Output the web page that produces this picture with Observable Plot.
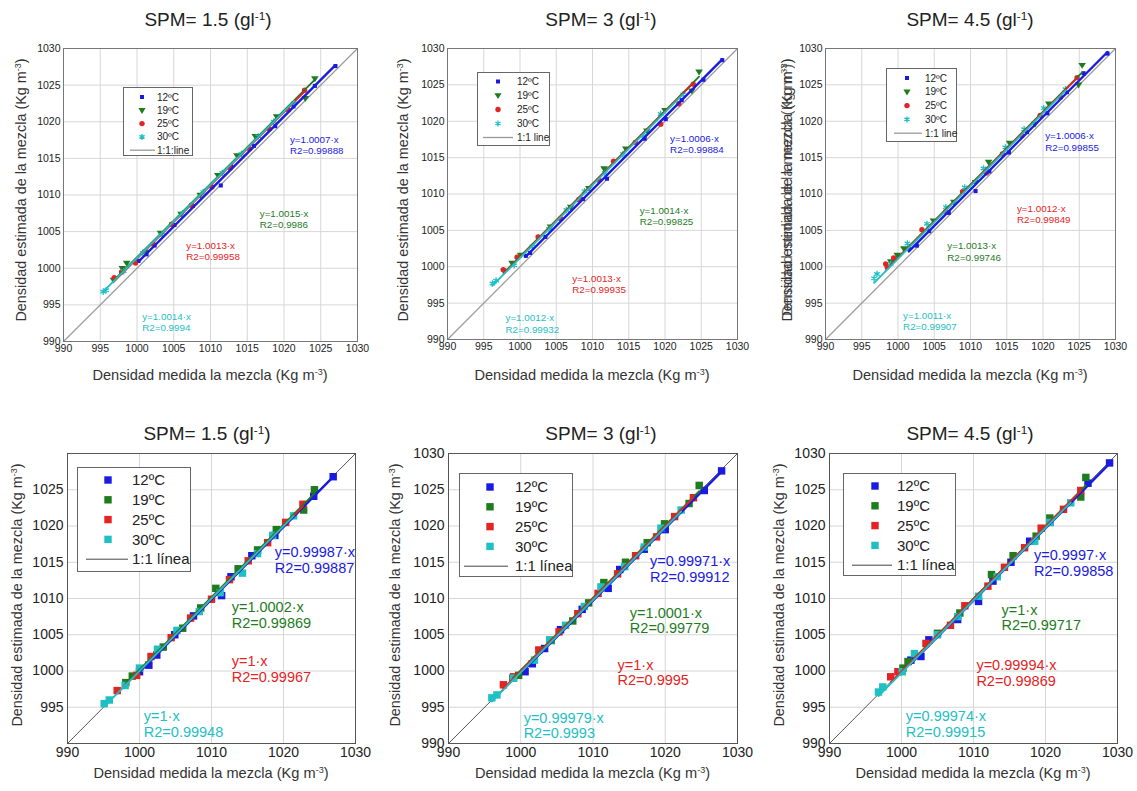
<!DOCTYPE html>
<html><head><meta charset="utf-8">
<script src="https://cdn.jsdelivr.net/npm/d3@7"></script>
<script src="https://cdn.jsdelivr.net/npm/@observablehq/plot@0.6"></script>
<style>
body{margin:0;background:#fff;font-family:"Liberation Sans",Arial,sans-serif;}
#root{position:relative;width:1137px;height:791px;overflow:hidden;background:#fff;}
.t{position:absolute;white-space:nowrap;color:#222;}
.title{font-size:19px;transform:translate(-50%,-50%);}
.xl{font-size:14.6px;transform:translate(-50%,-50%);color:#333;}
.yl{font-size:14.4px;transform:translate(-50%,-50%) rotate(-90deg);color:#333;}
sup{font-size:0.62em;vertical-align:0.55em;line-height:0;}
svg.p{position:absolute;overflow:visible;}
</style></head>
<body><div id="root"></div>
<script>
// ---------- data ----------
const temps = ["12ºC", "19ºC", "25ºC", "30ºC"];
const spm = ["1.5", "3", "4.5", "1.5", "3", "4.5"];
const oneToOneLabel = ["1:1:line", "1:1 line", "1:1 line", "1:1 línea", "1:1 línea", "1:1 línea"];
const xTitle = "Densidad medida la mezcla";
const yTitle = "Densidad estimada de la mezcla";
const yTitleAlt = "Densidad medida de la mezcla";

// slopes and R2 per panel, order: 12ºC, 19ºC, 25ºC, 30ºC
const slopes = [
  [1.0007, 1.0015, 1.0013, 1.0014],
  [1.0006, 1.0014, 1.0013, 1.0012],
  [1.0006, 1.0013, 1.0012, 1.0011],
  [0.99987, 1.0002, 1, 1],
  [0.99971, 1.0001, 1, 0.99979],
  [0.9997, 1, 0.99994, 0.99974]
];
const r2 = [
  [0.99888, 0.9986, 0.99958, 0.9994],
  [0.99884, 0.99825, 0.99935, 0.99932],
  [0.99855, 0.99746, 0.99849, 0.99907],
  [0.99887, 0.99869, 0.99967, 0.99948],
  [0.99912, 0.99779, 0.9995, 0.9993],
  [0.99858, 0.99717, 0.99869, 0.99915]
];

// measured vs estimated density [x, y]
const t1_12 = [[1000.2,1001.0],[1001.3,1001.9],[1002.4,1003.1],[1005.1,1005.9],[1007.6,1008.5],[1011.4,1011.3],[1012.8,1013.9],[1015.9,1016.7],[1018.8,1019.4],[1021.3,1022.1],[1024.2,1024.9],[1027.0,1027.6]];
const t1_19 = [[996.8,998.4],[998.0,1000.0],[998.6,1000.7],[1001.2,1002.2],[1003.2,1004.8],[1006.0,1007.4],[1008.6,1010.0],[1011.0,1012.7],[1013.6,1015.4],[1016.1,1018.0],[1019.0,1020.7],[1022.9,1023.2],[1024.2,1025.9]];
const t1_25 = [[996.9,998.7],[997.9,999.5],[999.8,1000.7],[1002.2,1003.3],[1004.7,1006.0],[1007.4,1008.6],[1010.2,1011.1],[1012.7,1013.7],[1015.3,1016.3],[1018.0,1019.0],[1020.6,1021.6],[1022.8,1024.3]];
const t1_30 = [[995.4,996.8],[995.8,997.0],[998.2,999.6],[1000.8,1002.1],[1003.4,1004.6],[1006.2,1007.5],[1009.0,1010.4],[1011.6,1013.0],[1014.2,1015.6],[1016.5,1018.0],[1018.6,1020.0],[1021.4,1022.5]];

const t2_12 = [[1000.8,1001.5],[1001.4,1001.9],[1003.5,1004.1],[1008.7,1009.3],[1012.0,1012.1],[1017.2,1017.6],[1020.1,1020.3],[1022.3,1022.9],[1025.3,1025.7],[1027.9,1028.4]];
const t2_19 = [[997.8,999.4],[998.9,1000.5],[1000.1,1001.6],[1004.2,1005.5],[1007.0,1008.2],[1009.5,1010.8],[1011.6,1013.5],[1014.6,1016.2],[1017.5,1018.7],[1020.0,1021.5],[1023.7,1024.2],[1024.7,1026.8]];
const t2_25 = [[997.7,999.6],[999.6,1001.3],[1002.5,1004.1],[1005.6,1006.6],[1008.1,1009.2],[1010.9,1011.9],[1012.9,1014.5],[1015.9,1017.1],[1019.4,1019.6],[1021.9,1022.4],[1023.9,1025.1]];
const t2_30 = [[996.2,997.7],[996.7,998.1],[999.2,1000.2],[1001.7,1002.8],[1004.0,1005.2],[1006.4,1007.8],[1008.9,1010.4],[1011.7,1012.9],[1014.2,1015.5],[1017.0,1018.0],[1019.4,1021.0],[1022.5,1023.7]];

const t3_12 = [[1001.5,1002.5],[1002.6,1002.9],[1004.3,1004.9],[1007.0,1007.4],[1010.7,1010.4],[1012.6,1013.1],[1015.3,1015.7],[1017.8,1018.5],[1020.6,1021.1],[1023.3,1024.0],[1025.6,1026.6],[1028.9,1029.3]];
const t3_19 = [[999.0,1000.7],[999.9,1001.6],[1000.8,1002.5],[1004.9,1006.3],[1007.7,1008.9],[1010.7,1011.6],[1012.5,1014.4],[1015.4,1017.0],[1018.9,1019.6],[1020.8,1022.4],[1024.9,1025.0],[1025.4,1027.7]];
const t3_25 = [[998.3,1000.4],[998.5,1000.0],[999.4,1001.2],[1003.3,1005.1],[1006.6,1007.6],[1008.9,1010.3],[1012.2,1012.9],[1014.4,1015.5],[1017.1,1018.0],[1019.6,1020.8],[1022.4,1023.3],[1024.7,1026.0]];
const t3_30 = [[996.7,998.4],[997.1,999.0],[999.0,1000.4],[1001.3,1003.2],[1004.0,1005.9],[1006.6,1008.2],[1009.2,1010.9],[1011.8,1013.5],[1014.8,1016.4],[1017.4,1018.9],[1020.1,1021.8],[1023.1,1024.4]];

const b1_12 = [[1000.0,999.9],[1001.3,1000.8],[1002.4,1002.2],[1004.9,1005.0],[1007.5,1007.6],[1011.4,1010.4],[1012.7,1013.0],[1015.6,1015.9],[1018.8,1018.7],[1024.2,1024.1],[1026.9,1026.8]];
const b1_19 = [[998.1,998.4],[999.0,999.3],[1003.3,1003.3],[1006.0,1005.9],[1008.5,1008.7],[1010.6,1011.4],[1013.7,1014.1],[1016.4,1016.7],[1019.0,1019.5],[1022.8,1022.2],[1024.3,1025.0]];
const b1_25 = [[996.9,997.3],[999.6,999.4],[1001.6,1002.0],[1004.4,1004.6],[1007.1,1007.3],[1010.0,1009.9],[1012.5,1012.6],[1015.1,1015.2],[1017.8,1017.7],[1020.3,1020.5],[1022.7,1023.0]];
const b1_30 = [[995.1,995.5],[995.8,996.0],[998.0,998.0],[1000.0,1000.4],[1002.5,1003.0],[1005.2,1005.6],[1008.3,1008.2],[1011.2,1010.8],[1014.3,1013.5],[1016.4,1016.2],[1018.5,1018.7],[1021.4,1021.4]];

const b2_12 = [[1000.6,999.9],[1001.6,1001.0],[1003.3,1003.1],[1005.5,1005.7],[1008.5,1008.5],[1012.1,1011.4],[1013.7,1014.0],[1017.1,1016.8],[1020.0,1019.5],[1025.4,1024.9],[1027.8,1027.6]];
const b2_19 = [[998.9,999.0],[999.7,999.4],[1004.2,1004.2],[1007.2,1006.9],[1009.4,1009.4],[1011.5,1012.2],[1014.5,1015.0],[1017.5,1017.7],[1019.9,1020.3],[1023.3,1023.1],[1024.7,1025.6]];
const b2_25 = [[997.6,998.1],[999.0,999.2],[1002.5,1002.9],[1005.3,1005.4],[1007.9,1007.9],[1010.7,1010.7],[1013.4,1013.4],[1015.9,1015.9],[1018.8,1018.5],[1021.3,1021.3],[1023.9,1023.9]];
const b2_30 = [[996.0,996.3],[996.7,996.7],[999.0,999.0],[1001.9,1001.5],[1004.0,1004.3],[1006.2,1006.3],[1008.8,1008.9],[1011.1,1011.6],[1014.4,1014.4],[1017.1,1017.1],[1019.4,1019.7],[1022.2,1022.2]];

const b3_12 = [[1001.3,1001.5],[1002.7,1002.0],[1003.8,1004.3],[1007.8,1007.1],[1010.7,1009.6],[1012.7,1012.4],[1015.2,1015.0],[1017.8,1017.9],[1020.6,1020.5],[1025.9,1025.9],[1028.9,1028.7]];
const b3_19 = [[1000.2,1000.4],[1000.9,1001.3],[1005.0,1005.2],[1008.1,1008.0],[1012.5,1013.3],[1015.5,1015.9],[1018.7,1018.6],[1020.6,1021.1],[1024.9,1024.0],[1025.6,1026.7]];
const b3_25 = [[998.5,999.2],[999.5,999.9],[1003.4,1003.8],[1006.8,1006.3],[1008.8,1009.0],[1012.0,1011.7],[1014.3,1014.3],[1017.1,1017.0],[1019.4,1019.7],[1022.5,1022.3],[1024.9,1024.9]];
const b3_30 = [[996.8,997.1],[997.4,997.8],[1000.1,999.9],[1001.8,1002.4],[1005.0,1005.0],[1007.8,1007.5],[1010.7,1010.3],[1013.3,1013.0],[1018.5,1017.9],[1020.6,1020.5],[1023.5,1023.2]];

const panelData = [
  [t1_12, t1_19, t1_25, t1_30],
  [t2_12, t2_19, t2_25, t2_30],
  [t3_12, t3_19, t3_25, t3_30],
  [b1_12, b1_19, b1_25, b1_30],
  [b2_12, b2_19, b2_25, b2_30],
  [b3_12, b3_19, b3_25, b3_30]
];
const domain = [990, 1030];

// ---------- styling / layout ----------
const colors = ["#1a1ae0", "#1e7c1e", "#e42424", "#1ec0c4"];
const frames = [
  {L:63, T:48, W:294, H:293}, {L:447, T:48, W:290, H:291}, {L:825, T:48, W:290, H:291},
  {L:67, T:453, W:288, H:290}, {L:448, T:453, W:289, H:290}, {L:829, T:453, W:288, H:290}
];
// annotation top-left anchors in data units (12, 19, 25, 30)
const annPos = [
  [[1020.8,1018.2],[1016.7,1008.1],[1006.7,1003.7],[1000.7,994.0]],
  [[1020.7,1018.3],[1016.5,1008.4],[1007.2,999.05],[998.0,993.6]],
  [[1020.3,1018.6],[1006.8,1003.5],[1016.4,1008.65],[1000.7,993.9]],
  [[1018.8,1017.2],[1012.8,1009.6],[1012.8,1002.2],[1000.6,994.6]],
  [[1017.9,1016.0],[1015.1,1008.85],[1013.4,1001.7],[1000.4,994.4]],
  [[1018.4,1016.8],[1013.9,1009.3],[1010.4,1001.6],[1000.6,994.6]]
];
const legends = [
  {x:123,y:87,w:70,h:69,first:10,rowH:13.3,mx:19,tx:34,lx0:7,lx1:32,fs:10},
  {x:477,y:72,w:73,h:74,first:9.5,rowH:14,mx:21,tx:40,lx0:6,lx1:36,fs:10},
  {x:886,y:68,w:71,h:74,first:10,rowH:13.8,mx:21,tx:39,lx0:8,lx1:36,fs:10},
  {x:77,y:467,w:114,h:105,first:13,rowH:19.8,mx:31,tx:55,lx0:9,lx1:51,fs:15},
  {x:459,y:473,w:114,h:104,first:14,rowH:19.8,mx:31,tx:56,lx0:5,lx1:49,fs:15},
  {x:843,y:473,w:113,h:103,first:13,rowH:19.8,mx:32,tx:54,lx0:9,lx1:49,fs:15}
];
const titleY = [20, 20, 20, 434, 434, 434];
const titleX = [208, 601, 970, 207, 601, 970];
const xlY = [375, 375, 375, 773, 773, 773];
const ylX = [21, 403, 787, 17, 395, 779];
const ylY = [190, 190, 190, 595, 595, 595];

const triDown = {draw(ctx, size){ const s = Math.sqrt(size); const a = s*0.6; ctx.moveTo(-a,-a*0.6); ctx.lineTo(a,-a*0.6); ctx.lineTo(0,a*0.95); ctx.closePath(); }};

const root = document.getElementById("root");
function addDiv(cls, style, html){ const d = document.createElement("div"); d.className = cls; Object.assign(d.style, style); d.innerHTML = html; root.appendChild(d); return d; }

function dotMark(pts, k, row){
  const base = {x: d => d[0], y: d => d[1]};
  if (row === 1) return Plot.dot(pts, {...base, symbol:"square", r:4.2, fill:colors[k]});
  if (k === 0) return Plot.dot(pts, {...base, symbol:"square", r:2.3, fill:colors[k]});
  if (k === 1) return Plot.dot(pts, {...base, symbol:triDown, r:3.6, fill:colors[k]});
  if (k === 2) return Plot.dot(pts, {...base, symbol:"circle", r:2.7, fill:colors[k]});
  return Plot.dot(pts, {...base, symbol:"asterisk", r:3.0, fill:"none", stroke:colors[k], strokeWidth:1.3});
}

for (let i = 0; i < 6; i++){
  const row = i < 3 ? 0 : 1;
  const f = frames[i];
  const m = row === 0 ? {l:40, r:14, t:8, b:24} : {l:48, r:20, t:8, b:26};
  const fs = row === 0 ? 10.5 : 14;
  const xt = row === 0 ? d3.range(990, 1031, 5) : d3.range(990, 1031, 10);
  const yt = i === 3 ? d3.range(995, 1026, 5) : d3.range(990, 1031, 5);
  const marks = [
    Plot.gridX(xt, {stroke:"#d6d6d6", strokeOpacity:1}),
    Plot.gridY(yt, {stroke:"#d6d6d6", strokeOpacity:1}),
    Plot.axisX(xt, {tickSize:0, tickPadding:row ? 4 : 3, label:null, fontSize:fs, tickFormat:d => String(d)}),
    Plot.axisY(yt, {tickSize:0, tickPadding:row ? 4 : 3, label:null, fontSize:fs, tickFormat:d => String(d)}),
    Plot.line(domain.map(v => [v, v]), {x:d => d[0], y:d => d[1], stroke: row ? "#555" : "#999", strokeWidth: row ? 1 : 1.2})
  ];
  const ser = panelData[i];
  ser.forEach((pts, k) => marks.push(dotMark(pts, k, row)));
  ser.forEach((pts, k) => {
    const ext = d3.extent(pts, d => d[0]);
    marks.push(Plot.line(ext.map(x => [x, slopes[i][k] * x]), {x:d => d[0], y:d => d[1], stroke:colors[k], strokeWidth: k === 0 ? 2.4 : 1.8}));
  });
  marks.push(Plot.frame({stroke: row ? "#555" : "#777", strokeWidth:1}));
  ser.forEach((pts, k) => {
    marks.push(Plot.text([k], {
      x: d => annPos[i][d][0], y: d => annPos[i][d][1],
      text: d => `y=${slopes[i][d]}·x\nR2=${r2[i][d]}`,
      fill: colors[k], textAnchor:"start", lineAnchor:"top",
      fontSize: row ? 14.5 : 9.8, lineHeight: row ? 1.07 : 1.15
    }));
  });
  const svg = Plot.plot({
    width: f.W + m.l + m.r, height: f.H + m.t + m.b,
    marginLeft: m.l, marginRight: m.r, marginTop: m.t, marginBottom: m.b,
    x: {domain, label:null},
    y: {domain, label:null},
    style: {fontFamily:'"Liberation Sans", Arial, sans-serif', color:"#222", background:"transparent", overflow:"visible"},
    marks
  });
  svg.classList.add("p");
  svg.style.left = (f.L - m.l) + "px";
  svg.style.top = (f.T - m.t) + "px";
  root.appendChild(svg);

  // titles and axis labels
  addDiv("t title", {left: titleX[i] + "px", top: titleY[i] + "px"}, `SPM= ${spm[i]} (gl<sup>-1</sup>)`);
  addDiv("t xl", {left: (f.L + f.W / 2) + "px", top: xlY[i] + "px"}, `${xTitle} (Kg m<sup>-3</sup>)`);
  addDiv("t yl", {left: ylX[i] + "px", top: ylY[i] + "px"}, `${yTitle} (Kg m<sup>-3</sup>)`);
  if (i === 2) addDiv("t yl", {left: ylX[i] + "px", top: ylY[i] + "px", opacity: 0.8}, `${yTitleAlt} (Kg m<sup>-3</sup>)`);

  // legend
  const lg = legends[i];
  const ns = "http://www.w3.org/2000/svg";
  let s = `<svg xmlns="${ns}" width="${lg.w}" height="${lg.h}" style="position:absolute;left:${lg.x}px;top:${lg.y}px;overflow:visible">`;
  s += `<rect x="0.5" y="0.5" width="${lg.w - 1}" height="${lg.h - 1}" fill="#fff" stroke="#666" stroke-width="1"/>`;
  const ff = 'font-family="Liberation Sans, Arial, sans-serif"';
  temps.forEach((tLabel, k) => {
    const cy = lg.first + k * lg.rowH, cx = lg.mx, c = colors[k];
    if (row === 1) s += `<rect x="${cx - 3.7}" y="${cy - 3.7}" width="7.4" height="7.4" fill="${c}"/>`;
    else if (k === 0) s += `<rect x="${cx - 2}" y="${cy - 2}" width="4" height="4" fill="${c}"/>`;
    else if (k === 1) s += `<path d="M${cx - 3.6},${cy - 2.3}L${cx + 3.6},${cy - 2.3}L${cx},${cy + 3.6}Z" fill="${c}"/>`;
    else if (k === 2) s += `<circle cx="${cx}" cy="${cy}" r="2.7" fill="${c}"/>`;
    else s += `<path d="M${cx},${cy - 3}V${cy + 3}M${cx - 2.6},${cy - 1.5}L${cx + 2.6},${cy + 1.5}M${cx - 2.6},${cy + 1.5}L${cx + 2.6},${cy - 1.5}" stroke="${c}" stroke-width="1.3"/>`;
    s += `<text x="${lg.tx}" y="${cy}" dy="0.35em" font-size="${lg.fs}" fill="#222" ${ff}>${tLabel}</text>`;
  });
  const cy5 = lg.first + 4 * lg.rowH;
  s += `<line x1="${lg.lx0}" x2="${lg.lx1}" y1="${cy5}" y2="${cy5}" stroke="${row ? '#444' : '#999'}" stroke-width="${row ? 1 : 1.3}"/>`;
  s += `<text x="${lg.tx}" y="${cy5}" dy="0.35em" font-size="${lg.fs}" fill="#222" ${ff}>${oneToOneLabel[i]}</text>`;
  s += `</svg>`;
  addDiv("", {position:"absolute", left:"0px", top:"0px"}, s);
}
</script>
</body></html>
